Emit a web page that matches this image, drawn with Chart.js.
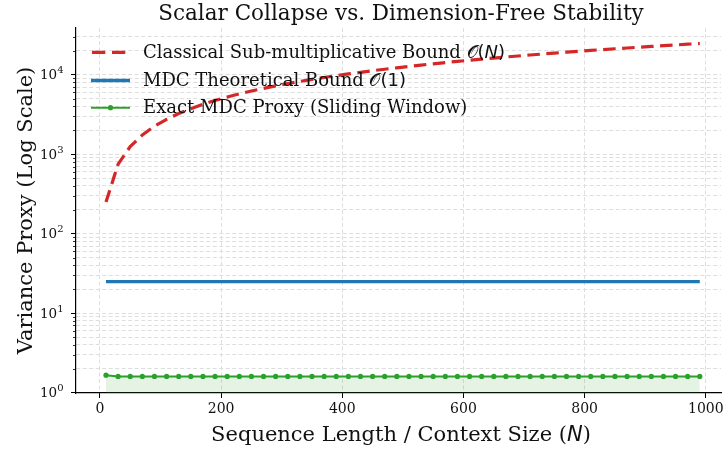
<!DOCTYPE html>
<html>
<head>
<meta charset="utf-8">
<script src="https://cdn.jsdelivr.net/npm/chart.js@4.4.1/dist/chart.umd.min.js"></script>
<style>
  html, body { margin: 0; padding: 0; background: #fff; }
  #wrap { width: 725px; height: 450px; }
</style>
</head>
<body>
<div id="wrap"><canvas id="chart" width="725" height="450"></canvas></div>
<script>
// Sequence lengths N (x positions of the sampled points)
const seqLength = [10, 30, 50, 70, 90, 110, 130, 150, 170, 190,
    210, 230, 250, 270, 290, 310, 330, 350, 370, 390,
    410, 430, 450, 470, 490, 510, 530, 550, 570, 590,
    610, 630, 650, 670, 690, 710, 730, 750, 770, 790,
    810, 830, 850, 870, 890, 910, 930, 950, 970, 990];

// Classical sub-multiplicative bound, grows ~ linearly in N
const classicalBound = [250, 750, 1250, 1750, 2250, 2750, 3250, 3750, 4250, 4750,
    5250, 5750, 6250, 6750, 7250, 7750, 8250, 8750, 9250, 9750,
    10250, 10750, 11250, 11750, 12250, 12750, 13250, 13750, 14250, 14750,
    15250, 15750, 16250, 16750, 17250, 17750, 18250, 18750, 19250, 19750,
    20250, 20750, 21250, 21750, 22250, 22750, 23250, 23750, 24250, 24750];

// MDC theoretical bound (flat)
const mdcN = [10, 990];
const mdcBound = [25, 25];

// Exact MDC proxy, sliding window
const mdcProxy = [1.66, 1.60, 1.60, 1.60, 1.60, 1.60, 1.60, 1.60, 1.60, 1.60,
    1.60, 1.60, 1.60, 1.60, 1.60, 1.60, 1.60, 1.60, 1.60, 1.60,
    1.60, 1.60, 1.60, 1.60, 1.60, 1.60, 1.60, 1.60, 1.60, 1.60,
    1.60, 1.60, 1.60, 1.60, 1.60, 1.60, 1.60, 1.60, 1.60, 1.60,
    1.60, 1.60, 1.60, 1.60, 1.60, 1.60, 1.60, 1.60, 1.60, 1.60];

const xTicks = [0, 200, 400, 600, 800, 1000];
const yDecades = [1, 10, 100, 1000, 10000];
const yExponents = ['0', '1', '2', '3', '4'];

const SERIF = '"DejaVu Serif", serif';
const SANS = '"DejaVu Sans", sans-serif';
const RED = '#d62728', BLUE = '#1f77b4', GREEN = '#2ca02c';

// minor ticks 2..9 per decade inside the axis range
const yMinor = [];
yDecades.forEach(d => {
    for (let k = 2; k <= 9; k++) yMinor.push(d * k);
});

function drawParts(ctx, parts, x, y, align) {
    let total = 0;
    parts.forEach(p => { ctx.font = p.f; p.w = ctx.measureText(p.t).width; total += p.w; });
    let cx = align === 'center' ? x - total / 2 : x;
    parts.forEach(p => {
        ctx.font = p.f;
        ctx.fillText(p.t, cx, y);
        cx += p.w;
    });
}

const textPlugin = {
    id: 'textPlugin',
    afterDraw(chart) {
        const ctx = chart.ctx;
        const area = chart.chartArea;
        const yScale = chart.scales.y;
        const midX = 401;
        ctx.save();
        ctx.fillStyle = '#111';
        ctx.textAlign = 'left';
        ctx.textBaseline = 'alphabetic';

        // title
        drawParts(ctx, [{ t: 'Scalar Collapse vs. Dimension-Free Stability', f: '21.5px ' + SERIF }],
            midX, 19.5, 'center');

        // x title
        drawParts(ctx, [
            { t: 'Sequence Length / Context Size (', f: '21px ' + SERIF },
            { t: 'N', f: 'italic 21px ' + SANS },
            { t: ')', f: '21px ' + SERIF }
        ], midX, 441, 'center');

        // y title
        ctx.save();
        ctx.translate(31.5, (area.top + area.bottom) / 2);
        ctx.rotate(-Math.PI / 2);
        drawParts(ctx, [{ t: 'Variance Proxy (Log Scale)', f: '21px ' + SERIF }], 0, 0, 'center');
        ctx.restore();

        // y tick labels 10^k
        yDecades.forEach((v, i) => {
            const py = yScale.getPixelForValue(v);
            ctx.font = '10px ' + SERIF;
            const we = ctx.measureText(yExponents[i]).width;
            ctx.font = '13.5px ' + SERIF;
            const wb = ctx.measureText('10').width;
            const right = 63.5;
            ctx.fillText('10', right - we - wb, py + 4.5);
            ctx.font = '10px ' + SERIF;
            ctx.fillText(yExponents[i], right - we, py - 1.5);
        });

        // minor y ticks
        ctx.strokeStyle = '#000';
        ctx.lineWidth = 0.8;
        yMinor.forEach(v => {
            if (v < yScale.min || v > yScale.max) return;
            const py = Math.round(yScale.getPixelForValue(v)) + 0.5;
            ctx.beginPath();
            ctx.moveTo(area.left - 3, py);
            ctx.lineTo(area.left, py);
            ctx.stroke();
        });

        // legend
        const lx0 = 91, lx1 = 130, tx = 143;
        const rows = [52.3, 80.5, 107.7];
        ctx.lineCap = 'butt';
        ctx.strokeStyle = RED; ctx.lineWidth = 3.3; ctx.setLineDash([13.3, 6.7]);
        ctx.beginPath(); ctx.moveTo(lx0 + 1, rows[0]); ctx.lineTo(lx1, rows[0]); ctx.stroke();
        ctx.setLineDash([]);
        ctx.strokeStyle = BLUE; ctx.lineWidth = 3.3;
        ctx.beginPath(); ctx.moveTo(lx0, rows[1]); ctx.lineTo(lx1, rows[1]); ctx.stroke();
        ctx.strokeStyle = GREEN; ctx.lineWidth = 2;
        ctx.beginPath(); ctx.moveTo(lx0, rows[2]); ctx.lineTo(lx1, rows[2]); ctx.stroke();
        ctx.fillStyle = GREEN;
        ctx.beginPath(); ctx.arc((lx0 + lx1) / 2, rows[2], 2.6, 0, Math.PI * 2); ctx.fill();

        ctx.fillStyle = '#111';
        drawParts(ctx, [
            { t: 'Classical Sub-multiplicative Bound ', f: '18px ' + SERIF },
            { t: '\u{1D4AA}', f: '18px ' + SANS },
            { t: '(', f: '18px ' + SANS },
            { t: 'N', f: 'italic 18px ' + SANS },
            { t: ')', f: '18px ' + SANS }
        ], tx, 58.3, 'left');
        drawParts(ctx, [
            { t: 'MDC Theoretical Bound ', f: '18px ' + SERIF },
            { t: '\u{1D4AA}', f: '18px ' + SANS },
            { t: '(1)', f: '18px ' + SANS }
        ], tx, 86, 'left');
        drawParts(ctx, [{ t: 'Exact MDC Proxy (Sliding Window)', f: '18px ' + SERIF }], tx, 113.3, 'left');
        ctx.restore();
    }
};

const gridColor = '#dedede';

new Chart(document.getElementById('chart').getContext('2d'), {
    type: 'line',
    data: {
        datasets: [
            {
                label: 'Exact MDC Proxy (Sliding Window)',
                data: seqLength.map((n, i) => ({ x: n, y: mdcProxy[i] })),
                borderColor: GREEN,
                borderWidth: 2,
                pointRadius: 2.6,
                pointBorderWidth: 0,
                pointBackgroundColor: GREEN,
                backgroundColor: 'rgba(44,160,44,0.13)',
                fill: 'start',
                tension: 0
            },
            {
                label: 'MDC Theoretical Bound',
                data: mdcN.map((n, i) => ({ x: n, y: mdcBound[i] })),
                borderColor: BLUE,
                borderWidth: 3.3,
                pointRadius: 0,
                fill: false
            },
            {
                label: 'Classical Sub-multiplicative Bound',
                data: seqLength.map((n, i) => ({ x: n, y: classicalBound[i] })),
                borderColor: RED,
                borderWidth: 3.2,
                borderDash: [12.5, 6.5],
                pointRadius: 0,
                fill: false,
                tension: 0
            }
        ]
    },
    options: {
        responsive: false,
        animation: false,
        devicePixelRatio: 1,
        layout: { padding: { top: 28, right: 0, left: 0, bottom: 0 } },
        plugins: {
            legend: { display: false },
            title: { display: false },
            tooltip: { enabled: false }
        },
        scales: {
            x: {
                type: 'linear',
                min: -39.5,
                max: 1025,
                afterBuildTicks: s => { s.ticks = xTicks.map(v => ({ value: v })); },
                afterFit: s => { s.height = 57; s.paddingLeft = 0; s.paddingRight = 0; },
                ticks: {
                    font: { family: SERIF, size: 14 },
                    color: '#111',
                    padding: 3,
                    maxRotation: 0,
                    autoSkip: false,
                    callback: v => String(v)
                },
                grid: {
                    color: gridColor,
                    lineWidth: 1,
                    tickColor: '#000',
                    tickLength: 5,
                    tickWidth: 1
                },
                border: { display: true, color: '#000', width: 1.2, dash: [4, 2.5] }
            },
            y: {
                type: 'logarithmic',
                min: 0.99,
                max: 38800,
                afterBuildTicks: s => {
                    s.ticks = yDecades.concat(yMinor).filter(v => v <= 38800).map(v => ({ value: v }));
                },
                afterFit: s => { s.width = 76; s.paddingTop = 0; s.paddingBottom = 0; },
                ticks: { display: false, autoSkip: false },
                grid: {
                    color: gridColor,
                    lineWidth: 1,
                    tickLength: 5,
                    tickColor: ctx => (ctx.tick && yDecades.includes(ctx.tick.value)) ? '#000' : 'rgba(0,0,0,0)',
                    tickWidth: 1
                },
                border: { display: true, color: '#000', width: 1.2, dash: [4, 2.5] }
            }
        }
    },
    plugins: [textPlugin]
});
</script>
</body>
</html>
